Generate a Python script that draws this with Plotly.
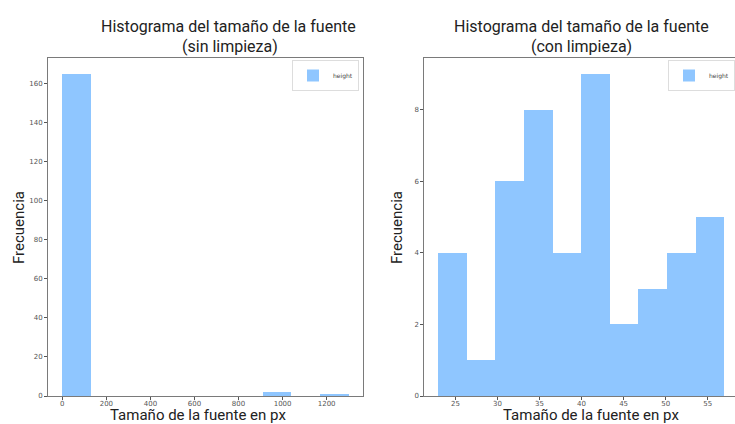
import plotly.graph_objects as go

W, H = 735, 424

# ---- data ----
left_edges = [0, 130, 260, 390, 520, 650, 780, 910, 1040, 1170, 1300]
left_counts = [165, 0, 0, 0, 0, 0, 0, 2, 0, 1]
right_edges = [23.0, 26.4, 29.8, 33.2, 36.6, 40.0, 43.4, 46.8, 50.2, 53.6, 57.0]
right_counts = [4, 1, 6, 8, 4, 9, 2, 3, 4, 5]
left_xticks = [0, 200, 400, 600, 800, 1000, 1200]
left_yticks = [0, 20, 40, 60, 80, 100, 120, 140, 160]
right_xticks = [25, 30, 35, 40, 45, 50, 55]
right_yticks = [0, 2, 4, 6, 8]
series_name = "height"
title_line1 = "Histograma del tamaño de la fuente"
left_title_line2 = "(sin limpieza)"
right_title_line2 = "(con limpieza)"
xlabel = "Tamaño de la fuente en px"
ylabel = "Frecuencia"

BAR = "rgb(143,198,255)"
SPINE = "#7a7a7a"
TICKC = "#555555"


def centers_widths(edges):
    c = [(a + b) / 2 for a, b in zip(edges[:-1], edges[1:])]
    w = [b - a for a, b in zip(edges[:-1], edges[1:])]
    return c, w


lc, lw = centers_widths(left_edges)
rc, rw = centers_widths(right_edges)

fig = go.Figure()
fig.add_trace(go.Bar(x=lc, y=left_counts, width=lw, marker=dict(color=BAR, line=dict(width=0)),
                     name=series_name, xaxis="x", yaxis="y", legend="legend"))
fig.add_trace(go.Bar(x=rc, y=right_counts, width=rw, marker=dict(color=BAR, line=dict(width=0)),
                     name=series_name, xaxis="x2", yaxis="y2", legend="legend2"))


def px(x):
    return x / W


def py(y):
    return 1 - y / H


tickfont = dict(family="DejaVu Sans", size=7, color="#555555")
axcommon = dict(showgrid=False, zeroline=False, showline=True, linecolor=SPINE, linewidth=1,
                ticks="outside", ticklen=3, tickwidth=1, tickcolor=TICKC, tickfont=tickfont,
                automargin=False, fixedrange=True)

left_x0, left_x1 = 48, 363
right_x0 = 424.3
y_top, y_bot = 58, 396

# right axis scale: 21.3..58.7 spans 424.3..738.8 px (clipped at 735)
r_lo, r_hi = 21.3, 58.7
r_visible_hi = r_lo + (r_hi - r_lo) * (W - right_x0) / (738.8 - right_x0)

legfont = dict(family="DejaVu Sans", size=6, color="#444")

fig.update_layout(
    template="none",
    width=W, height=H,
    margin=dict(l=0, r=0, t=0, b=0, pad=0, autoexpand=False),
    paper_bgcolor="white", plot_bgcolor="white",
    bargap=0,
    xaxis=dict(domain=[px(left_x0), px(left_x1)], anchor="y", range=[-65, 1365],
               tickvals=left_xticks, mirror=True, ticklabelstandoff=-2, **axcommon),
    yaxis=dict(domain=[py(y_bot), py(y_top)], anchor="x", range=[0, 165 * 1.05],
               tickvals=left_yticks, mirror=True, **axcommon),
    xaxis2=dict(domain=[px(right_x0), 1.0], anchor="y2", range=[r_lo, r_visible_hi],
                tickvals=right_xticks, mirror=True, ticklabelstandoff=-2, **axcommon),
    yaxis2=dict(domain=[py(y_bot), py(y_top)], anchor="x2", range=[0, 9 * 1.05],
                tickvals=right_yticks, mirror=False, **axcommon),
    legend=dict(x=px(359), y=py(60), xanchor="right", yanchor="top",
                bgcolor="white", bordercolor="#dddddd", borderwidth=1,
                font=legfont, itemwidth=30, tracegroupgap=0),
    legend2=dict(x=1.0, y=py(60), xanchor="right", yanchor="top",
                 bgcolor="white", bordercolor="#dddddd", borderwidth=1,
                 font=legfont, itemwidth=30, tracegroupgap=0),
    showlegend=True,
)

TF = dict(family="Roboto", size=16, color="#222222")
LF = dict(family="Roboto", size=15, color="#222222")
ann = [
    dict(text=title_line1, x=px(229), y=py(27), font=TF),
    dict(text=left_title_line2, x=px(230), y=py(46), font=TF),
    dict(text=title_line1, x=px(581), y=py(27), font=TF),
    dict(text=right_title_line2, x=px(581), y=py(46), font=TF),
    dict(text=xlabel, x=px(198), y=py(415), font=LF),
    dict(text=xlabel, x=px(591), y=py(415), font=LF),
    dict(text=ylabel, x=px(19), y=py(228), font=LF, textangle=-90),
    dict(text=ylabel, x=px(397), y=py(228), font=LF, textangle=-90),
]
for a in ann:
    fig.add_annotation(xref="paper", yref="paper", showarrow=False,
                       xanchor="center", yanchor="middle", **a)

fig.write_html(
    "out.html",
    config={"displayModeBar": False},
    post_script="document.body.style.margin='0';document.body.style.padding='0';document.body.style.overflow='hidden';",
)
